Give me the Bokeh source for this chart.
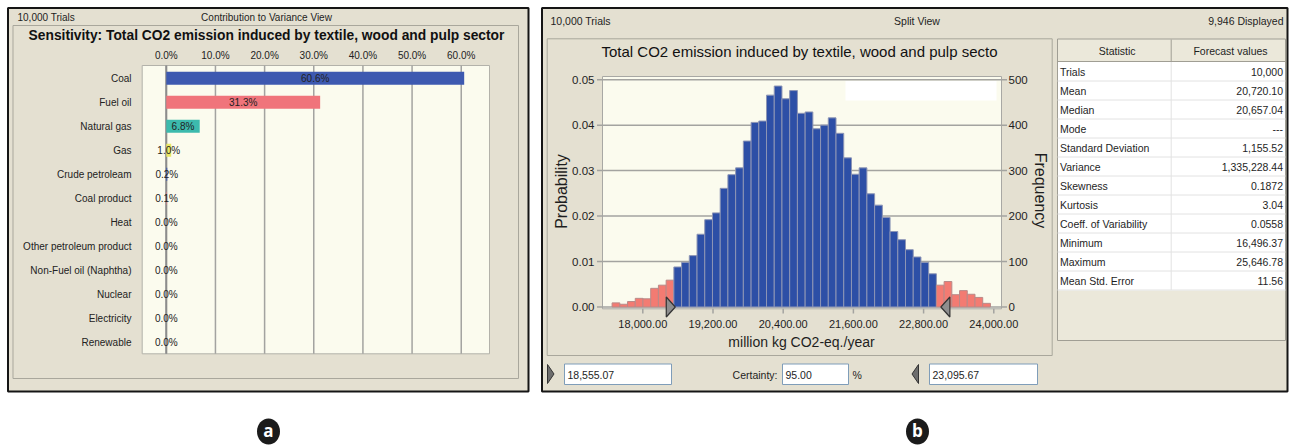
import numpy as np
from bokeh.plotting import figure
from bokeh.models import Range1d
from bokeh.core.properties import value
from bokeh.embed import file_html
from bokeh.resources import INLINE

# ---------------- data: panel (a) sensitivity ----------------
sens_categories = ["Coal", "Fuel oil", "Natural gas", "Gas", "Crude petroleam",
                   "Coal product", "Heat", "Other petroleum product",
                   "Non-Fuel oil (Naphtha)", "Nuclear", "Electricity", "Renewable"]
sens_values = [60.6, 31.3, 6.8, 1.0, 0.2, 0.1, 0.0, 0.0, 0.0, 0.0, 0.0, 0.0]
sens_colors = ["#3d59b0", "#f0747b", "#3cbaad", "#e9e866", "#3552b0", "#f0747b",
               "#3cbaad", "#e9e866", "#3d59b0", "#f0747b", "#3cbaad", "#e9e866"]
sens_ticks = [0, 10, 20, 30, 40, 50, 60]

# ---------------- data: panel (b) forecast ----------------
hist_counts = [9, 6, 12, 19, 18, 41, 48, 59,
               88, 98, 113, 160, 192, 207, 261, 291, 306, 365, 406, 409, 466, 486,
               458, 476, 426, 429, 392, 400, 416, 382, 328, 292, 306, 249, 224, 197,
               166, 148, 126, 110, 98, 73,
               48, 56, 27, 36, 28, 21, 8]
bin_start = 17475.0
bin_width = 132.0
trials = 10000
displayed = 9946
lower_cert = 18555.07
upper_cert = 23095.67
certainty = 95.00
prob_ticks = [0.00, 0.01, 0.02, 0.03, 0.04, 0.05]
value_ticks = [18000, 19200, 20400, 21600, 22800, 24000]
stat_names = ["Trials", "Mean", "Median", "Mode", "Standard Deviation", "Variance",
              "Skewness", "Kurtosis", "Coeff. of Variability", "Minimum", "Maximum",
              "Mean Std. Error"]
stat_values = ["10,000", "20,720.10", "20,657.04", "---", "1,155.52", "1,335,228.44",
               "0.1872", "3.04", "0.0558", "16,496.37", "25,646.78", "11.56"]

# ---------------- styling ----------------
FONT = "Liberation Sans"
PANEL = "#e4e0d1"
CREAM = "#fbfbee"
GRID = "#a3a3a0"
INK = "#1e1e1e"
NS = 10.5  # size of the condensed UI text in panel (b)

W, H = 1290, 445
p = figure(width=W, height=H, x_range=Range1d(0, W), y_range=Range1d(H, 0),
           x_axis_location=None, y_axis_location=None, toolbar_location=None,
           output_backend="svg", min_border=0)
p.grid.visible = False
p.outline_line_color = None
p.background_fill_color = "white"
p.border_fill_color = "white"


def txt(g, x, y, t, size=10, font=FONT, align="left", color=INK, style="normal", angle=0.0):
    g.text(x=x, y=y, text=t, text_font=value(font), text_font_size=f"{size}px",
           text_align=align, text_baseline="middle", text_color=color,
           text_font_style=style, angle=angle)


# ======================= panel (a) =======================
p.quad(left=[7.5], right=[528], top=[7.5], bottom=[391], fill_color=PANEL,
       line_color="#151515", line_width=2)
p.quad(left=[12.5], right=[518], top=[25], bottom=[378], fill_color=None,
       line_color="#a9a79c", line_width=1)
txt(p, [17], [16.5], [f"{trials:,} Trials"], size=10)
txt(p, [266], [16.5], ["Contribution to Variance View"], size=10, align="center")
txt(p, [266], [35], ["Sensitivity: Total CO2 emission induced by textile, wood and pulp sector"],
    size=13.8, align="center", style="bold", color="#111111")
p.quad(left=[141.7], right=[489], top=[65], bottom=[353.3], fill_color=CREAM,
       line_color="#b3b2aa", line_width=1)

ax_src = Range1d(-4.9, 65.75)
ay_src = Range1d(-0.53, 11.48)
ax_tgt = Range1d(141.7, 489)
ay_tgt = Range1d(65, 353.3)
sa = p.subplot(x_source=ax_src, y_source=ay_src, x_target=ax_tgt, y_target=ay_tgt)


def a_px(px):  # canvas pixel -> source x of panel (a)
    return ax_src.start + (px - ax_tgt.start) * (ax_src.end - ax_src.start) / (ax_tgt.end - ax_tgt.start)


def a_py(py):
    return ay_src.start + (py - ay_tgt.start) * (ay_src.end - ay_src.start) / (ay_tgt.end - ay_tgt.start)


idx = list(range(len(sens_categories)))
sa.segment(x0=sens_ticks, x1=sens_ticks, y0=ay_src.start, y1=ay_src.end,
           line_color=GRID, line_width=1.5)
sa.segment(x0=[0], x1=[0], y0=ay_src.start, y1=ay_src.end, line_color="#8c8c8c", line_width=2)
sa.hbar(y=idx, left=0, right=sens_values, height=0.54, fill_color=sens_colors,
        line_color=None)
txt(sa, [v / 2 for v in sens_values], idx, [f"{v:.1f}%" for v in sens_values], size=10,
    align="center", color="#222222")
txt(sa, [a_px(131)] * len(idx), idx, sens_categories, size=10, align="right", color="#222222")
txt(sa, sens_ticks, [a_py(55)] * len(sens_ticks), [f"{t:.1f}%" for t in sens_ticks],
    size=10, align="center", color="#222222")

# ======================= panel (b) =======================
p.quad(left=[541.5], right=[1287], top=[7.5], bottom=[391], fill_color=PANEL,
       line_color="#151515", line_width=2)
txt(p, [550], [20.5], [f"{trials:,} Trials"], size=NS)
txt(p, [916.5], [20.5], ["Split View"], size=NS, align="center")
txt(p, [1283], [20.5], [f"{displayed:,} Displayed"], size=NS, align="right")
p.quad(left=[546.7], right=[1051.7], top=[38.3], bottom=[355], fill_color=None,
       line_color="#a9a79c", line_width=1)
txt(p, [799], [50.5], ["Total CO2 emission induced by textile, wood and pulp secto"],
    size=15, align="center", color="#111111")
p.quad(left=[602], right=[1001], top=[76], bottom=[308.3], fill_color=CREAM,
       line_color="#a8a8a4", line_width=1)

bx_src = Range1d(17311, 24132)
by_src = Range1d(-0.0004, 0.0507)
bx_tgt = Range1d(602, 1001)
by_tgt = Range1d(308.3, 76)
sb = p.subplot(x_source=bx_src, y_source=by_src, x_target=bx_tgt, y_target=by_tgt)


def b_px(px):
    return bx_src.start + (px - bx_tgt.start) * (bx_src.end - bx_src.start) / (bx_tgt.end - bx_tgt.start)


def b_py(py):
    return by_src.start + (py - by_tgt.start) * (by_src.end - by_src.start) / (by_tgt.end - by_tgt.start)


sb.segment(x0=bx_src.start, x1=bx_src.end, y0=prob_ticks, y1=prob_ticks,
           line_color=GRID, line_width=1.5)
p.quad(left=[845], right=[996], top=[80.5], bottom=[100], fill_color="white", line_color=None)

edges = bin_start + bin_width * np.arange(len(hist_counts) + 1)
lefts, rights = edges[:-1], edges[1:]
probs = np.array(hist_counts) / trials
in_range = (rights > lower_cert) & (rights <= upper_cert)
bar_fill = ["#2d4fa6" if r else "#f37b72" for r in in_range]
bar_line = ["#8d95b5" if r else "#b98a88" for r in in_range]
sb.quad(left=lefts, right=rights, bottom=0, top=probs, fill_color=bar_fill,
        line_color=bar_line, line_width=1)

# axes ticks and labels
sb.segment(x0=b_px(596.5), x1=bx_src.start, y0=prob_ticks, y1=prob_ticks, line_color=GRID, line_width=1.5)
sb.segment(x0=bx_src.end, x1=b_px(1006.5), y0=prob_ticks, y1=prob_ticks, line_color=GRID, line_width=1.5)
sb.segment(x0=value_ticks, x1=value_ticks, y0=by_src.start, y1=b_py(313), line_color=GRID, line_width=1.5)
txt(sb, [b_px(594)] * len(prob_ticks), prob_ticks, [f"{t:.2f}" for t in prob_ticks],
    size=11.5, align="right")
txt(sb, [b_px(1008)] * len(prob_ticks), prob_ticks, [f"{round(t * trials)}" for t in prob_ticks],
    size=11.5, align="left")
txt(sb, value_ticks, [b_py(323.5)] * len(value_ticks), [f"{t:,.2f}" for t in value_ticks],
    size=11, align="center")

# certainty grabbers
hw = b_px(611) - b_px(602)
sb.patches(xs=[[lower_cert - hw, lower_cert, lower_cert - hw],
               [upper_cert + hw, upper_cert, upper_cert + hw]],
           ys=[[b_py(296.5), 0, b_py(316.5)], [b_py(296.5), 0, b_py(316.5)]],
           fill_color="#8e8e8e", line_color="#333333", line_width=1.2)

txt(p, [561], [191], ["Probability"], size=16, align="center", angle=np.pi / 2)
txt(p, [1040], [190], ["Frequency"], size=16, align="center", angle=-np.pi / 2)
txt(p, [801], [341], ["million kg CO2-eq./year"], size=14, align="center")

# bottom controls
p.patches(xs=[[547, 553.5, 547], [918, 911.5, 918]], ys=[[364, 373.5, 383], [364, 373.5, 383]],
          fill_color="#6d6d6d", line_color="#333333", line_width=1)
p.quad(left=[564, 782, 929], right=[671, 848, 1037], top=[363.5] * 3, bottom=[384] * 3,
       fill_color="white", line_color="#7f9db9", line_width=1)
txt(p, [567, 785, 932], [374] * 3,
    [f"{lower_cert:,.2f}", f"{certainty:.2f}", f"{upper_cert:,.2f}"], size=NS)
txt(p, [777], [374], ["Certainty:"], size=NS, align="right")
txt(p, [852], [374], ["%"], size=NS)

# statistics table
TL, TR = 1057, 1285
p.quad(left=[TL], right=[TR], top=[38.5], bottom=[340], fill_color="#ebe8da",
       line_color="#a09e94", line_width=1)
p.quad(left=[TL + 0.5], right=[TR - 0.5], top=[61], bottom=[290], fill_color="white", line_color=None)
p.segment(x0=[TL, 1170.7], x1=[TR, 1170.7], y0=[61, 39], y1=[61, 61],
          line_color="#a09e94", line_width=1)
txt(p, [1116.7, 1230], [50, 50], ["Statistic", "Forecast values"], size=NS, align="center")

ty_src = Range1d(-0.5, len(stat_names) - 0.5)
st = p.subplot(x_source=Range1d(TL, TR), y_source=ty_src, x_target=Range1d(TL, TR),
               y_target=Range1d(61.5, 61.5 + 19 * len(stat_names)))
rows = list(range(len(stat_names)))
st.segment(x0=TL, x1=TR, y0=[r + 0.5 for r in rows], y1=[r + 0.5 for r in rows],
           line_color="#e2e2e2", line_width=1)
st.segment(x0=[1170.7], x1=[1170.7], y0=[-0.5], y1=[len(rows) - 0.5],
           line_color="#e2e2e2", line_width=1)
txt(st, [1059.5] * len(rows), rows, stat_names, size=NS)
txt(st, [1282.5] * len(rows), rows, stat_values, size=NS, align="right")

# panel letters
p.ellipse(x=[268, 917], y=[431, 431], width=23, height=26, fill_color="#1b1b1b", line_color=None)
txt(p, [268, 917], [430, 430], ["a", "b"], size=17, font="Open Sans", align="center",
    color="white", style="bold")

open("out.html", "w").write(file_html(p, INLINE))
